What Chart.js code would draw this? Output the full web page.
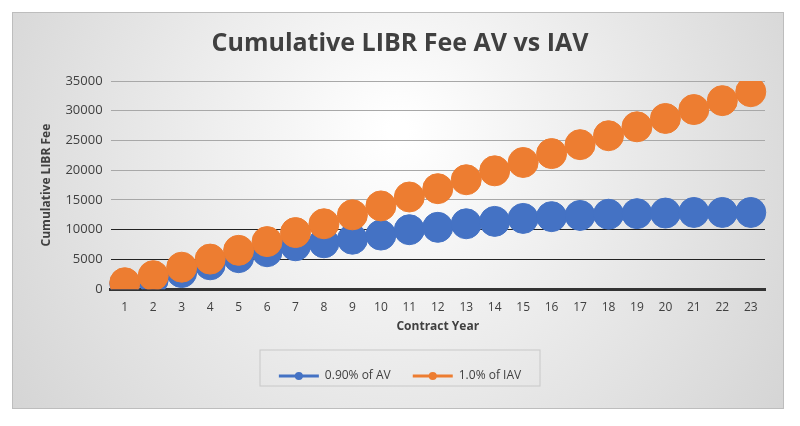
<!DOCTYPE html>
<html><head><script src="https://cdn.jsdelivr.net/npm/chart.js@4"></script>
<style>body{margin:0;background:#fff}#w{position:absolute;left:12px;top:12px;width:772px;height:397px;border:1px solid #bdbdbd;box-sizing:border-box}</style></head>
<body><div id="w"><canvas id="c"></canvas></div>
<script>
const years=["1","2","3","4","5","6","7","8","9","10","11","12","13","14","15","16","17","18","19","20","21","22","23"];
const av=[900,1600,2800,4100,5300,6300,7300,7800,8400,9100,10000,10400,11000,11400,11900,12200,12400,12600,12700,12800,12900,12900,12900];
const iav=[1090,2280,3700,5060,6530,8000,9520,11000,12500,14000,15500,16900,18400,19900,21300,22800,24300,25800,27300,28700,30200,31700,33200];
const bg={id:'bg',beforeDraw(c){const x=c.ctx,w=c.width,h=c.height;const g=x.createRadialGradient(w*0.5,h*0.3,10,w*0.5,h*0.4,w*0.6);g.addColorStop(0,'#ffffff');g.addColorStop(1,'#d4d4d4');x.save();x.fillStyle=g;x.fillRect(0,0,w,h);x.restore();},
afterDraw(c){const l=c.legend;const x=c.ctx;x.save();x.fillStyle='rgba(255,255,255,0.6)';x.strokeStyle='#c8c8c8';x.lineWidth=1;const bx=l.left+l.width/2-140,by=l.top+2;x.strokeRect(bx,by,280,l.height-8);
l.legendItems.forEach((it,i)=>{const hb=l.legendHitBoxes[i];x.fillStyle=it.fillStyle;x.beginPath();x.arc(hb.left+20,hb.top+hb.height/2,4,0,Math.PI*2);x.fill();});x.restore();}};
new Chart(document.getElementById('c'),{type:'line',plugins:[bg],
data:{labels:years,datasets:[
{label:'0.90% of AV',data:av,borderColor:'#4472c4',backgroundColor:'#4472c4',showLine:false,pointRadius:15,pointHoverRadius:15,order:2},
{label:'1.0% of IAV',data:iav,borderColor:'#ed7d31',backgroundColor:'#ed7d31',showLine:false,pointRadius:15,pointHoverRadius:15,order:1}]},
options:{responsive:true,maintainAspectRatio:false,animation:false,
layout:{padding:{left:22,right:18,top:8,bottom:16}},
plugins:{title:{display:true,text:'Cumulative LIBR Fee AV vs IAV',color:'#404040',font:{family:'Open Sans',size:25,weight:'bold'},padding:{top:8,bottom:22}},
legend:{position:'bottom',labels:{color:'#404040',font:{family:'Open Sans',size:12},boxWidth:40,boxHeight:3,padding:22,
generateLabels(c){return c.data.datasets.map((d,i)=>({text:d.label,fillStyle:d.backgroundColor,strokeStyle:d.borderColor,lineWidth:0,datasetIndex:i,fontColor:'#404040'}));}}},
tooltip:{enabled:false}},
scales:{x:{offset:true,grid:{display:false},border:{color:'#333',width:3},ticks:{color:'#404040',font:{family:'Open Sans',size:12}},
title:{display:true,text:'Contract Year',color:'#404040',font:{family:'Open Sans',size:12,weight:'bold'},padding:{top:2,bottom:14}}},
y:{min:0,max:35000,ticks:{stepSize:5000,color:'#404040',font:{family:'Open Sans',size:13},padding:8,callback:v=>String(v)},border:{display:false},
grid:{drawTicks:false,color:(ctx)=>ctx.tick&&ctx.tick.value<=10000?'#222':'#a8a8a8',lineWidth:(ctx)=>ctx.tick&&ctx.tick.value==0?3:1},
title:{display:true,text:'Cumulative LIBR Fee',color:'#404040',font:{family:'Open Sans',size:12,weight:'bold'}}}}}});
</script></body></html>
